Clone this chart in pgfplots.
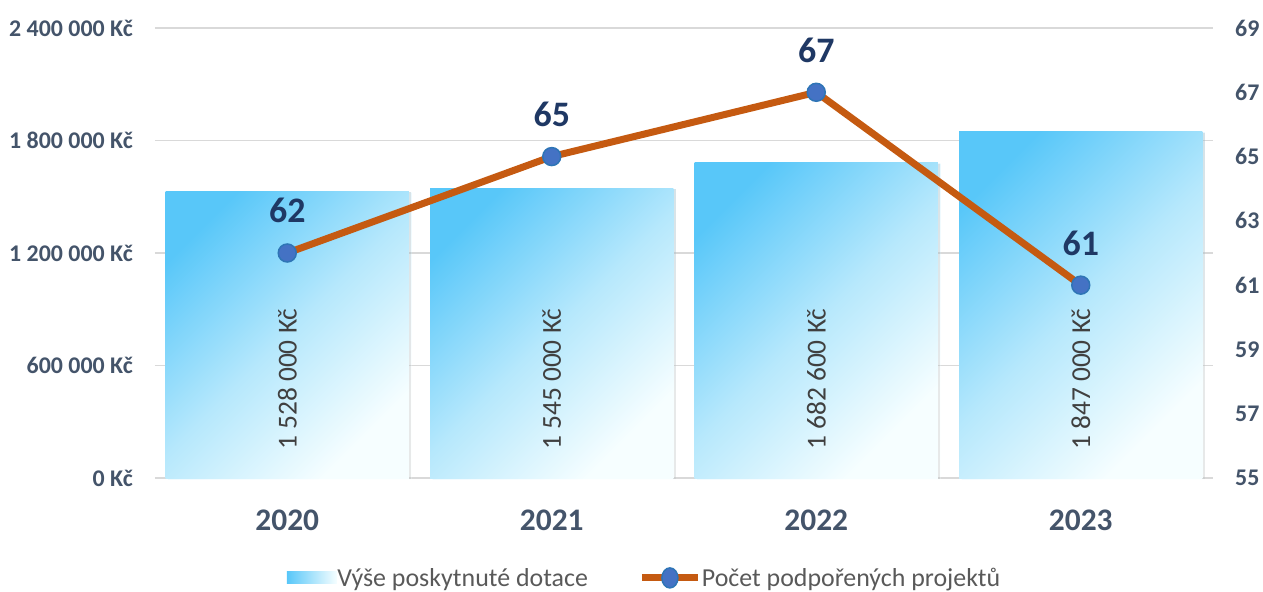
\documentclass[border=0pt]{standalone}
\usepackage{pgfplots}
\pgfplotsset{compat=1.18}
\usetikzlibrary{shadows}
\usepackage{fontspec}
\setmainfont{Carlito}
\definecolor{barA}{RGB}{88,199,249}
\definecolor{barM}{RGB}{182,232,252}
\definecolor{barB}{RGB}{246,254,255}
\definecolor{lineC}{RGB}{197,90,17}
\definecolor{markC}{RGB}{68,114,196}
\definecolor{markD}{RGB}{46,117,182}
\definecolor{tickC}{RGB}{68,84,106}
\definecolor{navyC}{RGB}{31,56,100}
\definecolor{labC}{RGB}{64,64,64}
\definecolor{legC}{RGB}{89,89,89}
\definecolor{gridC}{RGB}{217,217,217}
\pgfdeclareverticalshading{barsh}{100bp}{color(0bp)=(barB); color(26bp)=(barB); color(50bp)=(barM); color(76bp)=(barA); color(100bp)=(barA)}
\begin{document}
\begin{tikzpicture}
\pgfplotsset{
  common/.style={at={(0bp,0bp)}, anchor=south west, scale only axis,
    width=1058bp, height=450bp, xmin=-0.5, xmax=3.5,
    axis line style={draw=none}, major tick length=0pt, clip=false},
  onebar/.style={ybar, bar width=0.92, draw=none, shade, shading=barsh, shading angle=45,
    drop shadow={opacity=0.22, shadow xshift=2.5bp, shadow yshift=-1bp}},
}
\begin{axis}[common, ymin=0, ymax=2400000,
  ytick={0,600000,1200000,1800000,2400000},
  yticklabels={0 Kč, 600 000 Kč, 1 200 000 Kč, 1 800 000 Kč, 2 400 000 Kč},
  ymajorgrids, grid style={gridC, line width=1.5bp},
  xtick={0,1,2,3}, xticklabels={2020,2021,2022,2023},
  yticklabel style={font=\fontsize{24}{28}\selectfont\bfseries, text=tickC, anchor=east, inner sep=0pt, xshift=-22bp},
  xticklabel style={font=\fontsize{31.5}{36}\selectfont\bfseries, text=tickC, anchor=base, inner sep=0pt, yshift=-52bp},
  ytick pos=left, xtick pos=bottom, scaled y ticks=false,
]
\addplot[onebar] coordinates {(0,1528000)};
\addplot[onebar] coordinates {(1,1545000)};
\addplot[onebar] coordinates {(2,1682600)};
\addplot[onebar] coordinates {(3,1847000)};
\addplot[draw=none, mark=none, nodes near coords, point meta=explicit symbolic,
  every node near coord/.append style={yshift=28bp, rotate=90, anchor=west, inner sep=0pt,
    font=\fontsize{27.5}{32}\selectfont, text=labC}]
  table[meta=lab, col sep=comma, row sep=\\] {x,y,lab\\
0,0,1 528 000 Kč\\
1,0,1 545 000 Kč\\
2,0,1 682 600 Kč\\
3,0,1 847 000 Kč\\
};
\end{axis}
\begin{axis}[common, ymin=55, ymax=69,
  ytick={55,57,59,61,63,65,67,69},
  yticklabels={55,57,59,61,63,65,67,69},
  ytick pos=right, yticklabel pos=right, xtick=\empty,
  /pgf/number format/assume math mode=true,
  yticklabel style={font=\fontsize{24}{28}\selectfont\bfseries, text=tickC, anchor=west, inner sep=0pt, xshift=22bp},
  legend style={at={(0.462,-0.222)}, anchor=center, draw=none, fill=none,
    legend columns=2, font=\fontsize{26}{30}\selectfont, text=legC,
    /tikz/every even column/.append style={column sep=50bp},
    nodes={inner sep=0.5bp}},
]
\addlegendimage{draw=none, legend image code/.code={\fill[draw=none, left color=barA, right color=barB] (0bp,-6bp) rectangle (50bp,6bp);}}
\addlegendentry{Výše poskytnuté dotace}
\addplot[lineC, line width=7bp, mark=*, mark size=9bp,
  mark options={fill=markC, draw=markD, line width=1.5bp},
  nodes near coords,
  every node near coord/.append style={anchor=base, yshift=30bp, inner sep=0pt,
    font=\fontsize{36}{40}\selectfont\bfseries, text=navyC},
  legend image code/.code={\draw[lineC, line width=7bp] (0bp,0bp) -- (56bp,0bp);
    \filldraw[fill=markC, draw=markD, line width=1.5bp] (28bp,0bp) ellipse (8bp and 10bp);}]
  coordinates {(0,62) (1,65) (2,67) (3,61)};
\addlegendentry{Počet podpořených projektů}
\end{axis}
\path (-155bp,-114bp) rectangle (1108bp,478bp);
\end{tikzpicture}
\end{document}
